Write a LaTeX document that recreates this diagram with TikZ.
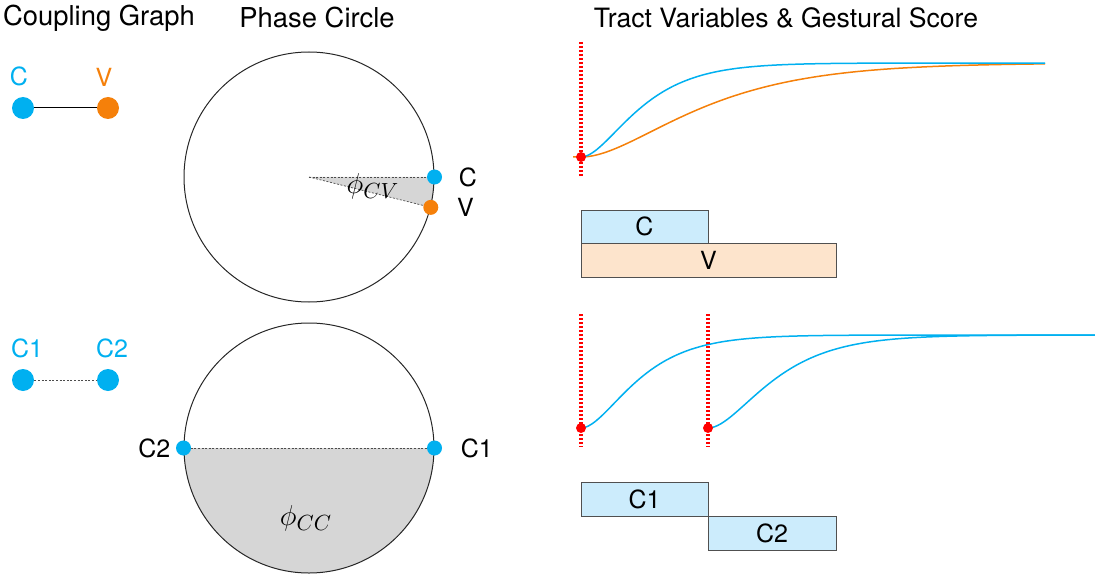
\documentclass[tikz,border=0pt]{standalone}
\usepackage{fontspec}
\setmainfont{TeX Gyre Heros}
\usetikzlibrary{positioning}
\definecolor{gcyan}{RGB}{0,176,240}
\definecolor{gorange}{RGB}{245,128,10}
\definecolor{boxblue}{RGB}{204,236,252}
\definecolor{boxorange}{RGB}{253,228,204}
\definecolor{boxline}{RGB}{80,80,80}
\definecolor{wedgegray}{RGB}{214,214,214}

\begin{document}
\begin{tikzpicture}[
        x=0.5pt, y=-0.5pt,
        % 見出しのスタイル
        title/.style={font=\fontsize{13.7}{16}\selectfont},
        % ラベルのスタイル
        lbl/.style={font=\fontsize{12.5}{15}\selectfont, inner sep=1pt},
        % 結合グラフの点
        gnode/.style={circle, fill=#1, minimum size=11pt, inner sep=0pt},
        % 位相円上の点
        pdot/.style={circle, fill=#1, minimum size=7.5pt, inner sep=0pt},
        % 開始点
        rdot/.style={circle, fill=red, minimum size=5pt, inner sep=0pt},
        % 位相円
        phase/.style={circle, draw=black!85, line width=0.5pt, minimum size=125pt, inner sep=0pt},
        % ジェスチャーの箱
        gbox/.style={rectangle, draw=boxline, line width=0.5pt, inner sep=0pt, outer sep=0pt, anchor=north west, font=\fontsize{12.5}{15}\selectfont},
        % 開始時刻の点線
        onset/.style={red, line width=1.6pt, dash pattern=on 1.1pt off 0.9pt},
        % 声道変数の曲線
        tv/.style={line width=0.75pt},
        % 点線（細）
        fine/.style={line width=0.35pt, dash pattern=on 1pt off 0.8pt, black!70},
        % 位相の記号
        phi/.style={font=\fontsize{15}{17}\selectfont}
    ]
    \useasboundingbox (0,0) rectangle (1095,577);

    % 見出し
    \node[title] (t_graph) at (99,18) {Coupling Graph};
    \node[title] (t_circle) at (317,18) {Phase Circle};
    \node[title, font=\fontsize{13.3}{16}\selectfont] (t_tract) at (786,18) {Tract Variables \& Gestural Score};

    % 結合グラフ（上）
    \node[gnode=gcyan] (g_c) at (23,108) {};
    \node[gnode=gorange] (g_v) at (108,108) {};
    \node[lbl, gcyan, above=4pt of g_c, xshift=-2pt] (l_gc) {C};
    \node[lbl, gorange, above=4pt of g_v, xshift=-2pt] (l_gv) {V};
    \draw[line width=0.5pt] (g_c) -- (g_v);

    % 結合グラフ（下）
    \node[gnode=gcyan] (g_c1) at (23,380) {};
    \node[gnode=gcyan] (g_c2) at (108,380) {};
    \node[lbl, gcyan, above=4pt of g_c1, xshift=2pt] (l_gc1) {C1};
    \node[lbl, gcyan, above=4pt of g_c2, xshift=2pt] (l_gc2) {C2};
    \draw[fine] (g_c1) -- (g_c2);

    % 位相円（上）
    \coordinate (o_top) at (309,177);
    \fill[wedgegray] (o_top) -- ++(0:62.5pt) arc[start angle=0, end angle=-14, radius=62.5pt] -- cycle;
    \node[phase] (pc_top) at (o_top) {};
    \draw[fine] (pc_top.center) -- (pc_top.0);
    \draw[fine] (pc_top.center) -- (pc_top.-14);
    \node[pdot=gcyan] (p_c) at (pc_top.0) {};
    \node[pdot=gorange] (p_v) at (pc_top.-14) {};
    \node[lbl, right=7pt of p_c] (l_pc) {C};
    \node[lbl, right=8pt of p_v] (l_pv) {V};
    \node[phi] (phi_cv) at (373,186) {$\phi_{CV}$};

    % 位相円（下）
    \coordinate (o_bot) at (309,448);
    \fill[wedgegray] (o_bot) ++(180:62.5pt) arc[start angle=180, end angle=360, radius=62.5pt] -- cycle;
    \node[phase] (pc_bot) at (o_bot) {};
    \draw[fine] (pc_bot.180) -- (pc_bot.0);
    \node[pdot=gcyan] (p_c1) at (pc_bot.0) {};
    \node[pdot=gcyan] (p_c2) at (pc_bot.180) {};
    \node[lbl, right=8pt of p_c1] (l_pc1) {C1};
    \node[lbl, left=1.5pt of p_c2] (l_pc2) {C2};
    \node[phi] (phi_cc) at (306,518) {$\phi_{CC}$};

    % 声道変数（上）
    \draw[tv, gorange] (573,157) -- plot[domain=0:464, samples=120] ({581+\x},{157-94*(1-(1+\x/69)*exp(-\x/69))});
    \draw[tv, gcyan] plot[domain=0:464, samples=120] ({581+\x},{157-94*(1-(1+\x/34)*exp(-\x/34))});
    \coordinate (on_a1) at (581,42);
    \coordinate (on_a2) at (581,176);
    \draw[onset] (on_a1) -- (on_a2);
    \node[rdot] (r_a) at (581,157) {};

    % ジェスチャースコア（上）
    \node[gbox, fill=boxblue, minimum width=63.5pt, minimum height=16.5pt] (b_c) at (581,210) {C};
    \node[gbox, fill=boxorange, minimum width=127.5pt, minimum height=17pt, below=0pt of b_c.south west, anchor=north west] (b_v) {V};

    % 声道変数（下）
    \draw[tv, gcyan] plot[domain=0:514, samples=140] ({581+\x},{428-93*(1-(1+\x/33)*exp(-\x/33))});
    \draw[tv, gcyan] plot[domain=0:387, samples=120] ({708+\x},{428-93*(1-(1+\x/38)*exp(-\x/38))});
    \coordinate (on_b1) at (581,314);
    \coordinate (on_b2) at (581,447);
    \coordinate (on_c1) at (708,314);
    \coordinate (on_c2) at (708,447);
    \draw[onset] (on_b1) -- (on_b2);
    \draw[onset] (on_c1) -- (on_c2);
    \node[rdot] (r_b) at (581,428) {};
    \node[rdot] (r_c) at (708,428) {};

    % ジェスチャースコア（下）
    \node[gbox, fill=boxblue, minimum width=63.5pt, minimum height=17pt] (b_c1) at (581,482) {C1};
    \node[gbox, fill=boxblue, minimum width=64pt, minimum height=17pt, below=0pt of b_c1.south east, anchor=north west] (b_c2) {C2};

\end{tikzpicture}
\end{document}
